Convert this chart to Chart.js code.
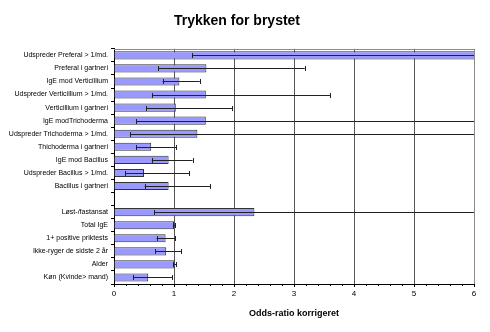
<!DOCTYPE html>
<html>
<head>
<meta charset="utf-8">
<script src="https://cdn.jsdelivr.net/npm/chart.js@4"></script>
<style>
  html, body { margin: 0; padding: 0; background: #fff; }
  #wrap { width: 490px; height: 332px; }
</style>
</head>
<body>
<div id="wrap"><canvas id="odds"></canvas></div>
<script>
// kategorier (tom linje mellem de to grupper)
var labels = [
  "Udspreder Preferal > 1/md.",
  "Preferal i gartneri",
  "IgE mod Verticillium",
  "Udspreder Verticillium > 1/md.",
  "Verticillium i gartneri",
  "IgE modTrichoderma",
  "Udspreder Trichoderma > 1/md.",
  "Thichoderma i gartneri",
  "IgE mod Bacillus",
  "Udspreder Bacillus > 1/md.",
  "Bacillus i gartneri",
  "",
  "Løst-/fastansat",
  "Total IgE",
  "1+ positive priktests",
  "Ikke-ryger de sidste 2 år",
  "Alder",
  "Køn (Kvinde> mand)"
];
// odds-ratio
var oddsRatio = [7.0, 1.54, 1.09, 1.53, 1.03, 1.53, 1.39, 0.62, 0.91, 0.50, 0.91, null, 2.34, 1.00, 0.86, 0.87, 1.01, 0.57];
// konfidensinterval
var ciLow  = [1.3, 0.74, 0.81, 0.64, 0.54, 0.37, 0.27, 0.37, 0.63, 0.19, 0.51, null, 0.67, 0.98, 0.71, 0.69, 0.99, 0.32];
var ciHigh = [30, 3.18, 1.43, 3.60, 1.97, 8.0, 8.0, 1.04, 1.31, 1.25, 1.60, null, 9.0, 1.02, 1.02, 1.12, 1.04, 0.97];
var xTicks = [0, 1, 2, 3, 4, 5, 6];

// fejlstreger, ramme og små tick-mærker
var ekstra = {
  id: "ekstra",
  afterDatasetsDraw: function (chart) {
    var ctx = chart.ctx, a = chart.chartArea;
    var xs = chart.scales.x, ys = chart.scales.y;
    ctx.save();
    ctx.beginPath();
    ctx.rect(a.left, a.top - 2, a.right - a.left + 1, a.bottom - a.top + 4);
    ctx.clip();
    ctx.strokeStyle = "#222";
    ctx.lineWidth = 1;
    for (var i = 0; i < labels.length; i++) {
      if (ciLow[i] == null) continue;
      var y = Math.round(ys.getPixelForValue(i)) + 0.5;
      var x1 = xs.getPixelForValue(ciLow[i]);
      var x2 = xs.getPixelForValue(ciHigh[i]);
      ctx.beginPath();
      ctx.moveTo(x1, y); ctx.lineTo(x2, y);
      ctx.moveTo(Math.round(x1) + 0.5, y - 2.5); ctx.lineTo(Math.round(x1) + 0.5, y + 2.5);
      ctx.moveTo(Math.round(x2) + 0.5, y - 2.5); ctx.lineTo(Math.round(x2) + 0.5, y + 2.5);
      ctx.stroke();
    }
    ctx.restore();

    ctx.save();
    // grå ramme top/højre
    ctx.strokeStyle = "#8c8c8c";
    ctx.lineWidth = 1;
    ctx.beginPath();
    ctx.moveTo(a.left, Math.round(a.top) + 0.5);
    ctx.lineTo(Math.round(a.right) + 0.5, Math.round(a.top) + 0.5);
    ctx.lineTo(Math.round(a.right) + 0.5, a.bottom);
    ctx.stroke();
    // små tick-mærker på x-aksen
    ctx.strokeStyle = "#000";
    ctx.beginPath();
    for (var v = 0.2; v < 6; v += 0.2) {
      var px = Math.round(xs.getPixelForValue(v)) + 0.5;
      ctx.moveTo(px, a.bottom); ctx.lineTo(px, a.bottom + 2);
    }
    ctx.stroke();
    ctx.restore();
  }
};

var ctx = document.getElementById("odds").getContext("2d");
new Chart(ctx, {
  type: "bar",
  data: {
    labels: labels,
    datasets: [{
      data: oddsRatio,
      backgroundColor: "#9999ff",
      borderColor: "#333333",
      borderWidth: 1,
      barPercentage: 0.62,
      categoryPercentage: 1
    }]
  },
  options: {
    indexAxis: "y",
    responsive: true,
    maintainAspectRatio: false,
    animation: false,
    layout: { padding: { left: 0, right: 16, top: 0, bottom: 0 } },
    plugins: {
      legend: { display: false },
      tooltip: { enabled: false },
      title: {
        display: true,
        text: "Trykken for brystet",
        color: "#000",
        font: { family: "'Liberation Sans', Arial, sans-serif", size: 14, weight: "bold" },
        padding: { top: 13, bottom: 19 }
      }
    },
    scales: {
      x: {
        type: "linear",
        min: 0,
        max: 6,
        afterBuildTicks: function (scale) {
          scale.ticks = xTicks.map(function (v) { return { value: v }; });
        },
        afterFit: function (scale) { scale.height = 48; },
        grid: {
          color: function (c) {
            if (c.tick.value === 0) return "rgba(0,0,0,0)";
            if (c.tick.value === 6) return "#8c8c8c";
            return "#555";
          },
          tickColor: "#000",
          tickLength: 3
        },
        border: { color: "#000" },
        ticks: {
          color: "#000",
          padding: 2,
          font: { family: "'Liberation Sans', Arial, sans-serif", size: 8 }
        },
        title: {
          display: true,
          text: "Odds-ratio korrigeret",
          color: "#000",
          font: { family: "'Liberation Sans', Arial, sans-serif", size: 9, weight: "bold" },
          padding: { top: 0, bottom: 13 }
        }
      },
      y: {
        afterFit: function (scale) { scale.width = 114; },
        grid: {
          drawOnChartArea: false,
          tickLength: 3,
          tickColor: "#000"
        },
        border: { color: "#000" },
        ticks: {
          color: "#000",
          padding: 3,
          autoSkip: false,
          font: { family: "'Liberation Sans', Arial, sans-serif", size: 7 }
        }
      }
    }
  },
  plugins: [ekstra]
});
</script>
</body>
</html>
